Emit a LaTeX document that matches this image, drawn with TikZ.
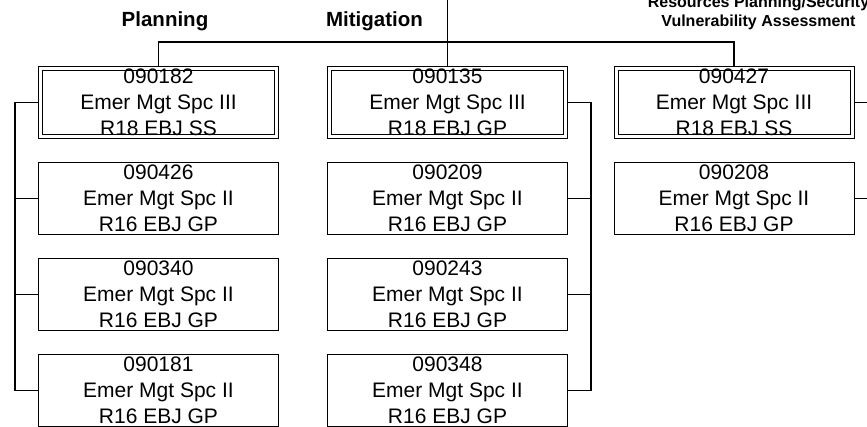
\documentclass[tikz,border=0pt]{standalone}
\usepackage{fontspec}
\setmainfont{Liberation Sans}
\begin{document}
\begin{tikzpicture}[x=1pt,y=-1pt,
  conn/.style={line width=1.5pt},
  pbox/.style={draw, line width=1pt, minimum width=240pt, minimum height=72pt, inner sep=0pt, align=center, font=\fontsize{21}{25.8}\selectfont},
  dbox/.style={pbox, draw=none, minimum width=241pt, minimum height=73pt, outer sep=0pt},
  dline/.style={line width=1pt},
  hdr/.style={anchor=base, font=\bfseries\fontsize{20.5}{24}\selectfont, inner sep=0pt},
  subhdr/.style={anchor=base, font=\bfseries\fontsize{16}{18}\selectfont, inner sep=0pt}]
\path[use as bounding box, clip] (0,0) rectangle (867,426);

\node[hdr] (hp) at (165,26) {Planning};
\node[hdr] (hm) at (374.5,26) {Mitigation};
\node[subhdr] (hr1) at (758.5,7.5) {Resources Planning/Security};
\node[subhdr] (hr2) at (758.5,26) {Vulnerability Assessment};

\node[dbox] (p1) at (158.5,102.5) {090182\\Emer Mgt Spc III\\R18 EBJ SS};
\node[pbox] (p2) at (158.5,198.5) {090426\\Emer Mgt Spc II\\R16 EBJ GP};
\node[pbox] (p3) at (158.5,294.5) {090340\\Emer Mgt Spc II\\R16 EBJ GP};
\node[pbox] (p4) at (158.5,390.5) {090181\\Emer Mgt Spc II\\R16 EBJ GP};

\node[dbox] (m1) at (447.5,102.5) {090135\\Emer Mgt Spc III\\R18 EBJ GP};
\node[pbox] (m2) at (447.5,198.5) {090209\\Emer Mgt Spc II\\R16 EBJ GP};
\node[pbox] (m3) at (447.5,294.5) {090243\\Emer Mgt Spc II\\R16 EBJ GP};
\node[pbox] (m4) at (447.5,390.5) {090348\\Emer Mgt Spc II\\R16 EBJ GP};

\node[dbox] (r1) at (734,102.5) {090427\\Emer Mgt Spc III\\R18 EBJ SS};
\node[pbox] (r2) at (734,198.5) {090208\\Emer Mgt Spc II\\R16 EBJ GP};

\foreach \n in {p1,m1,r1} {
  \draw[dline] ([shift={(0.5pt,-0.5pt)}]\n.north west) rectangle ([shift={(-0.5pt,0.5pt)}]\n.south east);
  \draw[dline] ([shift={(4.5pt,-4.5pt)}]\n.north west) rectangle ([shift={(-4.5pt,4.5pt)}]\n.south east);
}

\coordinate (top) at (0,0);
\coordinate (bus) at (0,42);
\coordinate (lb) at (15,0);
\coordinate (mb) at (591,0);
\coordinate (rb) at (878,0);

\draw[conn] (m1.north) -- (m1.north |- top);
\draw[conn] (p1.north) -- (p1.north |- bus) -- (r1.north |- bus) -- (r1.north);

\draw[conn] (p1.west) -- (p1.west -| lb) -- (p4.west -| lb) -- (p4.west);
\draw[conn] (p2.west) -- (p2.west -| lb);
\draw[conn] (p3.west) -- (p3.west -| lb);

\draw[conn] (m1.east) -- (m1.east -| mb) -- (m4.east -| mb) -- (m4.east);
\draw[conn] (m2.east) -- (m2.east -| mb);
\draw[conn] (m3.east) -- (m3.east -| mb);

\draw[conn] (r1.east) -- (r1.east -| rb) -- (r2.east -| rb) -- (r2.east);
\end{tikzpicture}
\end{document}
